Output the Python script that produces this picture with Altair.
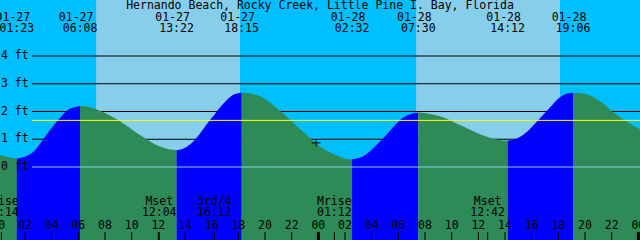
import altair as alt
import pandas as pd

# ---------------- data ----------------
TITLE = "Hernando Beach, Rocky Creek, Little Pine I. Bay, Florida"

TIDE_DATES = ["01-27", "01-27", "01-27", "01-27", "01-28", "01-28", "01-28", "01-28"]
TIDE_TIMES = ["01:23", "06:08", "13:22", "18:15", "02:32", "07:30", "14:12", "19:06"]
TIDE_FT = [0.31, 2.20, 0.61, 2.68, 0.28, 1.96, 0.95, 2.68]

# intermediate curve readings (hours since 01-27 00:00, feet)
CURVE_H = [0.125, 0.75,
           1.9, 2.625, 3.375, 3.875, 4.5, 5.125, 5.6,
           6.7, 7.625, 9.125, 10.625, 11.1, 12.125, 12.8,
           13.9, 14.625, 15.875, 17.125, 17.7,
           18.8, 19.625, 21.125, 22.625, 23.5, 24.125, 25.375, 26.0,
           27.1, 27.875, 28.75, 29.125, 30.375, 31.0,
           32.1, 33.125, 34.625, 36.125, 37.375, 37.8,
           38.7, 39.375, 40.625, 41.25, 41.875, 42.5,
           43.7, 44.625, 45.4, 46.125, 47.0, 47.625, 48.125]
CURVE_FT = [0.43, 0.35,
            0.36, 0.55, 1.00, 1.33, 1.70, 2.02, 2.14,
            2.17, 2.03, 1.65, 1.15, 1.00, 0.74, 0.64,
            0.67, 0.92, 1.69, 2.41, 2.62,
            2.66, 2.55, 2.03, 1.37, 0.99, 0.74, 0.42, 0.30,
            0.33, 0.57, 0.98, 1.17, 1.78, 1.92,
            1.94, 1.83, 1.51, 1.18, 0.99, 0.955,
            0.99, 1.16, 1.76, 2.08, 2.41, 2.62,
            2.66, 2.52, 2.27, 1.97, 1.68, 1.50, 1.36]

SUN_DATES = ["01-27", "01-27", "01-28", "01-28"]
SUN_TIMES = ["07:20", "18:08", "07:20", "18:08"]

MOON_LABELS = ["Mrise", "Mset", "3rd/4", "Mrise", "Mset"]
MOON_DATES = ["01-27", "01-27", "01-27", "01-28", "01-28"]
MOON_TIMES = ["00:14", "12:04", "16:12", "01:12", "12:42"]

HOUR_TICKS = list(range(0, 50, 2))
MIDNIGHTS = [0, 24, 48]
LEVEL_FT = [0, 1, 2, 3, 4]
LEVEL_LABELS = ["0 ft", "1 ft", "2 ft", "3 ft", "4 ft"]
GRID_FT = [1, 2, 3, 4]
MARK_LEVEL = [1.68]
NOW_H = [23.83]
NOW_FT = [0.87]

X_DOMAIN = [0.125, 48.125]
Y_DOMAIN = [-2.63, 6.018]

FONT = "DejaVu Sans Mono"
FS = 11.5


def hours(date, time):
    day = int(date[3:]) - 27
    hh, mm = time.split(":")
    return day * 24 + int(hh) + int(mm) / 60.0


# ---------------- tables ----------------
tide_h = [hours(d, t) for d, t in zip(TIDE_DATES, TIDE_TIMES)]
tide_df = pd.DataFrame({"h": tide_h, "date": TIDE_DATES, "time": TIDE_TIMES})

# water segments: between consecutive extremes (rising = low->high)
rows = []
for h, ft in zip(CURVE_H, CURVE_FT):
    seg = sum(1 for e in tide_h if e < h)
    rows.append((h, ft, seg))
for i, (h, ft) in enumerate(zip(tide_h, TIDE_FT)):
    rows.append((h, ft, i))      # end of segment i
    rows.append((h, ft, i + 1))  # start of segment i+1
curve_df = pd.DataFrame(rows, columns=["h", "ft", "seg"])
first_is_low = TIDE_FT[0] < TIDE_FT[1]
def direction(seg):
    # segment 0 ends at first extreme
    ends_at_low = (seg % 2 == 0) == first_is_low
    return "falling" if ends_at_low else "rising"
curve_df["dir"] = curve_df["seg"].apply(direction)
curve_df = curve_df[curve_df["seg"] <= len(tide_h)]

sun_h = [hours(d, t) for d, t in zip(SUN_DATES, SUN_TIMES)]
bounds = [X_DOMAIN[0]] + sun_h + [X_DOMAIN[1]]
sky_df = pd.DataFrame({
    "h0": bounds[:-1],
    "h1": bounds[1:],
    "kind": ["night" if i % 2 == 0 else "day" for i in range(len(bounds) - 1)],
})

moon_df = pd.DataFrame({
    "h": [hours(d, t) for d, t in zip(MOON_DATES, MOON_TIMES)],
    "label": MOON_LABELS,
    "time": MOON_TIMES,
})

hour_df = pd.DataFrame({"h": HOUR_TICKS, "label": ["%02d" % (h % 24) for h in HOUR_TICKS]})
mid_df = pd.DataFrame({"h": MIDNIGHTS})
level_df = pd.DataFrame({"ft": LEVEL_FT, "label": LEVEL_LABELS})
grid_df = pd.DataFrame({"ft": GRID_FT})
zero_df = pd.DataFrame({"ft": [0]})
mark_df = pd.DataFrame({"ft": MARK_LEVEL})
now_df = pd.DataFrame({"h": NOW_H, "ft": NOW_FT})
title_df = pd.DataFrame({"t": [TITLE]})

xs = alt.Scale(domain=X_DOMAIN, nice=False, zero=False)
ys = alt.Scale(domain=Y_DOMAIN, nice=False, zero=False)
X = lambda f="h": alt.X(f"{f}:Q", scale=xs, axis=None)
Y = lambda f="ft": alt.Y(f"{f}:Q", scale=ys, axis=None, stack=None)

sky = alt.Chart(sky_df).mark_rect().encode(
    x=X("h0"), x2="h1",
    y=alt.value(0), y2=alt.value(240),
    color=alt.Color("kind:N", scale=alt.Scale(domain=["night", "day"],
                                              range=["#00bfff", "#87ceeb"]), legend=None),
)

grid = alt.Chart(grid_df).mark_rule(color="black", strokeWidth=1).encode(
    y=Y(), x=alt.value(32), x2=alt.value(640))

water = alt.Chart(curve_df).mark_area(interpolate="monotone").encode(
    x=X(), y=Y(), y2=alt.datum(Y_DOMAIN[0]),
    color=alt.Color("dir:N", scale=alt.Scale(domain=["rising", "falling"],
                                             range=["#0000ff", "#2e8b57"]), legend=None),
    detail="seg:N",
)

zero_line = alt.Chart(zero_df).mark_rule(color="#87ceeb", strokeWidth=1).encode(
    y=Y(), x=alt.value(32), x2=alt.value(640))
mark_line = alt.Chart(mark_df).mark_rule(color="#ffff00", strokeWidth=1).encode(
    y=Y(), x=alt.value(32), x2=alt.value(640))

level_text = alt.Chart(level_df).mark_text(
    font=FONT, fontSize=FS, align="left", baseline="middle", color="black"
).encode(y=Y(), x=alt.value(1), text="label:N")

now_mark = alt.Chart(now_df).mark_point(
    shape="M-1,0L1,0M0,-0.8L0,0.8", filled=False, color="black", strokeWidth=1,
    size=81, opacity=1
).encode(x=X(), y=Y())

title = alt.Chart(title_df).mark_text(
    font=FONT, fontSize=FS, align="center", baseline="middle", color="black"
).encode(x=alt.value(320), y=alt.value(6), text="t:N")

date_text = alt.Chart(tide_df).mark_text(
    font=FONT, fontSize=FS, align="center", baseline="middle", color="black", dx=-4
).encode(x=X(), y=alt.value(17.5), text="date:N")
time_text = alt.Chart(tide_df).mark_text(
    font=FONT, fontSize=FS, align="center", baseline="middle", color="black"
).encode(x=X(), y=alt.value(29), text="time:N")

moon_label = alt.Chart(moon_df).mark_text(
    font=FONT, fontSize=FS, align="center", baseline="middle", color="black"
).encode(x=X(), y=alt.value(202), text="label:N")
moon_time = alt.Chart(moon_df).mark_text(
    font=FONT, fontSize=FS, align="center", baseline="middle", color="black"
).encode(x=X(), y=alt.value(212.5), text="time:N")
moon_ticks = alt.Chart(moon_df).mark_rule(color="black", strokeWidth=1).encode(
    x=X(), y=alt.value(232), y2=alt.value(240))

hour_text = alt.Chart(hour_df).mark_text(
    font=FONT, fontSize=FS, align="center", baseline="middle", color="black"
).encode(x=X(), y=alt.value(226), text="label:N")
hour_ticks = alt.Chart(hour_df).mark_rule(color="black", strokeWidth=1).encode(
    x=X(), y=alt.value(232), y2=alt.value(240))
mid_ticks = alt.Chart(mid_df).mark_rule(color="black", strokeWidth=3).encode(
    x=X(), y=alt.value(232), y2=alt.value(240))

chart = alt.layer(
    sky, grid, water, zero_line, mark_line, level_text, now_mark,
    title, date_text, time_text, moon_label, moon_time,
    hour_text, hour_ticks, moon_ticks, mid_ticks,
).resolve_scale(color="independent").properties(
    width=640, height=240, padding=0, autosize=alt.AutoSizeParams(type="none"),
    background="#00bfff",
).configure_view(stroke=None)

chart.save("out.html", embed_options={"renderer": "svg", "actions": False})
